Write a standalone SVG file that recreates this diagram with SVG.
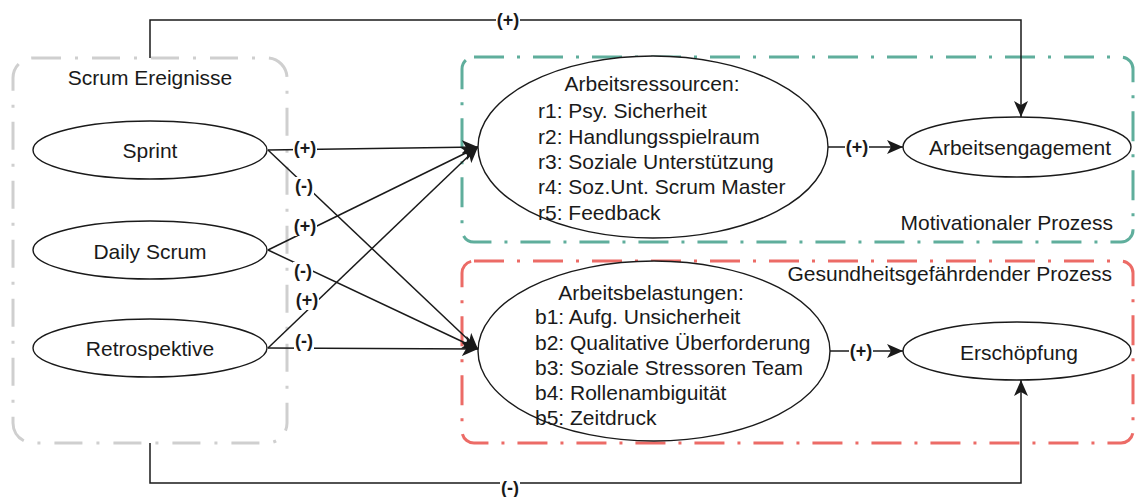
<svg xmlns="http://www.w3.org/2000/svg" width="1136" height="497" viewBox="0 0 1136 497">
  <style>
    text { font-family: "Liberation Sans", Arial, sans-serif; fill: #1a1a1a; }
    .t { font-size: 21px; }
    .mid { text-anchor: middle; dominant-baseline: central; }
    .left { text-anchor: start; dominant-baseline: central; }
    .right { text-anchor: end; dominant-baseline: central; }
    .lbl { font-size: 18px; font-weight: bold; text-anchor: middle; dominant-baseline: central; }
    .lblbg { fill: #ffffff; }
    .node { fill: #ffffff; stroke: #1a1a1a; stroke-width: 1.4; }
    .edge { fill: none; stroke: #1a1a1a; stroke-width: 1.5; }
    .group-gray { fill: none; stroke: #cfcfcf; stroke-width: 3; stroke-dasharray: 28 14 3 14; }
    .group-green { fill: none; stroke: #5fae9c; stroke-width: 3; stroke-dasharray: 30 13 3 13; }
    .group-red { fill: none; stroke: #ec6b66; stroke-width: 3; stroke-dasharray: 30 13 3 13; }
  </style>
  <defs>
    <marker id="arrow" markerUnits="userSpaceOnUse" markerWidth="17" markerHeight="14" refX="16" refY="7" orient="auto">
      <path d="M0,0 L16,7 L0,14 L4,7 Z" fill="#1a1a1a"/>
    </marker>
  </defs>

  <!-- group frames -->
  <g id="scrum-ereignisse">
    <rect class="group-gray" x="13" y="58" width="274" height="385" rx="20" ry="20"/>
    <text class="t mid" x="150" y="77">Scrum Ereignisse</text>
  </g>
  <g id="motivationaler-prozess">
    <rect class="group-green" x="462" y="57" width="671" height="185" rx="12" ry="12"/>
    <text class="t right" x="1113" y="222">Motivationaler Prozess</text>
  </g>
  <g id="gesundheitsgefaehrdender-prozess">
    <rect class="group-red" x="462" y="261" width="671" height="182" rx="12" ry="12"/>
    <text class="t right" x="1112" y="273">Gesundheitsgefährdender Prozess</text>
  </g>

  <!-- connectors -->
  <g id="connectors">
    <path class="edge" d="M268,150 L478,147" marker-end="url(#arrow)"/>
    <path class="edge" d="M268,150 L478,349" marker-end="url(#arrow)"/>
    <path class="edge" d="M268,250 L478,147" marker-end="url(#arrow)"/>
    <path class="edge" d="M268,250 L478,349" marker-end="url(#arrow)"/>
    <path class="edge" d="M268,348 L478,147" marker-end="url(#arrow)"/>
    <path class="edge" d="M268,348 L478,349" marker-end="url(#arrow)"/>
    <path class="edge" d="M828,147 L903,147" marker-end="url(#arrow)"/>
    <path class="edge" d="M830,351 L903,351" marker-end="url(#arrow)"/>
    <path class="edge" d="M150,58 V20 H1021 V117" marker-end="url(#arrow)"/>
    <path class="edge" d="M150,443 V483 H1021 V380" marker-end="url(#arrow)"/>

    <!-- edge labels -->
    <rect class="lblbg" x="293" y="139" width="24" height="19"/>
    <text class="lbl" x="305" y="148">(+)</text>
    <rect class="lblbg" x="294" y="177" width="20" height="19"/>
    <text class="lbl" x="304" y="186">(-)</text>
    <rect class="lblbg" x="293" y="217" width="24" height="19"/>
    <text class="lbl" x="305" y="226">(+)</text>
    <rect class="lblbg" x="293" y="262" width="20" height="19"/>
    <text class="lbl" x="303" y="271">(-)</text>
    <rect class="lblbg" x="295" y="291" width="24" height="19"/>
    <text class="lbl" x="307" y="300">(+)</text>
    <rect class="lblbg" x="294" y="332" width="20" height="19"/>
    <text class="lbl" x="304" y="341">(-)</text>
    <rect class="lblbg" x="845" y="138" width="24" height="19"/>
    <text class="lbl" x="857" y="147">(+)</text>
    <rect class="lblbg" x="849" y="342" width="24" height="19"/>
    <text class="lbl" x="861" y="351">(+)</text>
    <rect class="lblbg" x="496" y="11" width="24" height="19"/>
    <text class="lbl" x="508" y="20">(+)</text>
    <rect class="lblbg" x="500" y="479" width="20" height="18"/>
    <text class="lbl" x="510" y="488">(-)</text>
  </g>

  <!-- nodes -->
  <g id="sprint">
    <ellipse class="node" cx="150" cy="150" rx="117" ry="29"/>
    <text class="t mid" x="150" y="150">Sprint</text>
  </g>
  <g id="daily-scrum">
    <ellipse class="node" cx="150" cy="250" rx="117" ry="29"/>
    <text class="t mid" x="150" y="251">Daily Scrum</text>
  </g>
  <g id="retrospektive">
    <ellipse class="node" cx="150" cy="348" rx="117" ry="29"/>
    <text class="t mid" x="150" y="348">Retrospektive</text>
  </g>
  <g id="arbeitsressourcen">
    <ellipse class="node" cx="653" cy="147" rx="175" ry="91"/>
    <text class="t mid" x="652" y="83">Arbeitsressourcen:</text>
    <text class="t left" x="538" y="110">r1: Psy. Sicherheit</text>
    <text class="t left" x="538" y="136">r2: Handlungsspielraum</text>
    <text class="t left" x="538" y="161">r3: Soziale Unterstützung</text>
    <text class="t left" x="538" y="186">r4: Soz.Unt. Scrum Master</text>
    <text class="t left" x="538" y="212">r5: Feedback</text>
  </g>
  <g id="arbeitsbelastungen">
    <ellipse class="node" cx="654" cy="351" rx="176" ry="90"/>
    <text class="t mid" x="651" y="292">Arbeitsbelastungen:</text>
    <text class="t left" x="535" y="316">b1: Aufg. Unsicherheit</text>
    <text class="t left" x="535" y="342">b2: Qualitative Überforderung</text>
    <text class="t left" x="535" y="367">b3: Soziale Stressoren Team</text>
    <text class="t left" x="535" y="392">b4: Rollenambiguität</text>
    <text class="t left" x="535" y="417">b5: Zeitdruck</text>
  </g>
  <g id="arbeitsengagement">
    <ellipse class="node" cx="1017" cy="147" rx="114" ry="30"/>
    <text class="t mid" x="1020" y="147">Arbeitsengagement</text>
  </g>
  <g id="erschoepfung">
    <ellipse class="node" cx="1017" cy="351" rx="114" ry="29"/>
    <text class="t mid" x="1019" y="352">Erschöpfung</text>
  </g>
</svg>
